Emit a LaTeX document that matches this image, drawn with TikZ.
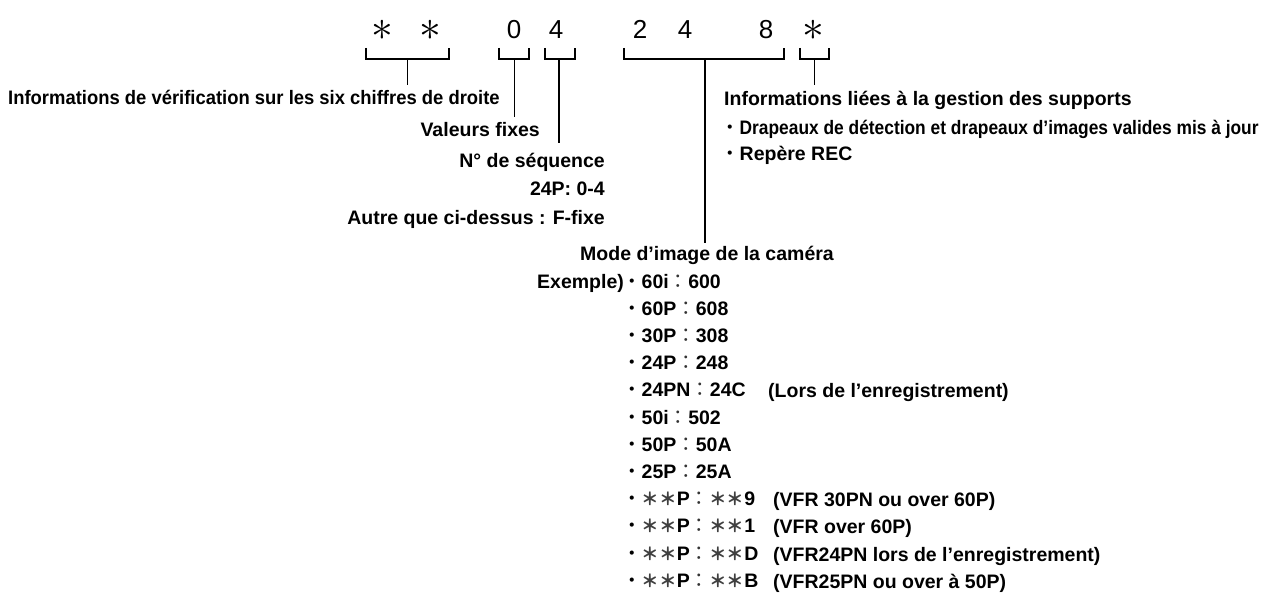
\documentclass[tikz,border=0pt]{standalone}
\usepackage{fontspec}
\setmainfont{Liberation Sans}
\newfontfamily\cjk{Noto Sans CJK JP}
\begin{document}
\begin{tikzpicture}[x=1pt,y=-1pt,
  lab/.style={inner sep=0pt,font=\fontsize{19.5}{23}\selectfont\bfseries},
  digit/.style={inner sep=0pt,font=\fontsize{26}{30}\selectfont},
  astk/.style={inner sep=0pt,font=\fontsize{24.88}{30}\selectfont},
  brk/.style={line width=1.2pt,line join=miter},
  stem/.style={line width=1.2pt}]
\useasboundingbox (0,0) rectangle (1275,594);
\newcommand{\bul}{{\cjk\mdseries ・}}
\newcommand{\col}{{\cjk\mdseries\color{black!80}：}}
\newcommand{\ask}{{\cjk\color{black!75}\scalebox{0.9}{＊}}}
% top code
\node[astk] (c1) at (382.5,30) {\scalebox{1.75}{$\ast$}};
\node[astk] (c2) at (430.5,30) {\scalebox{1.75}{$\ast$}};
\node[digit,anchor=base] (c3) at (514,39) {0};
\node[digit,anchor=base] (c4) at (556,39) {4};
\node[digit,anchor=base] (c5) at (640,39) {2};
\node[digit,anchor=base] (c6) at (685,39) {4};
\node[digit,anchor=base] (c7) at (766,39) {8};
\node[astk] (c8) at (813,30) {\scalebox{1.75}{$\ast$}};
% brackets
\draw[brk] (366,48) -- (366,59) -- (449,59) -- (449,48);
\draw[brk] (499,48) -- (499,59) -- (529,59) -- (529,48);
\draw[brk] (545,48) -- (545,59) -- (575,59) -- (575,48);
\draw[brk] (624,48) -- (624,59) -- (784,59) -- (784,48);
\draw[brk] (800,48) -- (800,59) -- (829,59) -- (829,48);
\coordinate (s1) at (407.5,59);
\coordinate (s2) at (514.6,59);
\coordinate (s3) at (559,59);
\coordinate (s4) at (705,59);
\coordinate (s5) at (814.6,59);
% labels
\node[lab,anchor=base west] (l1) at (8,104) {\scalebox{0.945}[1]{Informations de vérification sur les six chiffres de droite}};
\node[lab,anchor=base east] (l2) at (540,136) {Valeurs fixes};
\node[lab,anchor=base east] (l3) at (605,167) {N° de séquence};
\node[lab,anchor=base east] (l3b) at (605,195) {24P: 0-4};
\node[lab,anchor=base east] (l3c) at (605,224) {Autre que ci-dessus : F-fixe};
\node[lab,anchor=base] (l4) at (707,260) {Mode d’image de la caméra};
\node[lab,anchor=base west] (l5) at (724,105) {Informations liées à la gestion des supports};
\node[lab,anchor=base west] (l5a) at (720,134) {\bul\scalebox{0.89}[1]{Drapeaux de détection et drapeaux d’images valides mis à jour}};
\node[lab,anchor=base west] (l5b) at (720,160) {\bul Repère REC};
% stems
\draw[stem] (s1) -- (s1 |- 0,85);
\draw[stem] (s2) -- (s2 |- 0,117);
\draw[stem] (s3) -- (s3 |- 0,143);
\draw[stem] (s4) -- (s4 |- 0,243);
\draw[stem] (s5) -- (s5 |- 0,85);
% examples
\node[lab,anchor=base west] (ex) at (537,288) {Exemple)};
\node[lab,anchor=base west] (e1) at (622,288) {\bul 60i\col 600};
\node[lab,anchor=base west] (e2) at (622,315.2) {\bul 60P\col 608};
\node[lab,anchor=base west] (e3) at (622,342.4) {\bul 30P\col 308};
\node[lab,anchor=base west] (e4) at (622,369.6) {\bul 24P\col 248};
\node[lab,anchor=base west] (e5) at (622,396.8) {\bul 24PN\col 24C};
\node[lab,anchor=base west] (n5) at (768,397.8) {(Lors de l’enregistrement)};
\node[lab,anchor=base west] (e6) at (622,424) {\bul 50i\col 502};
\node[lab,anchor=base west] (e7) at (622,451.2) {\bul 50P\col 50A};
\node[lab,anchor=base west] (e8) at (622,478.4) {\bul 25P\col 25A};
\node[lab,anchor=base west] (e9) at (622,505.6) {\bul\ask\ask P\col\ask\ask 9};
\node[lab,anchor=base west] (n9) at (773,506.6) {(VFR 30PN ou over 60P)};
\node[lab,anchor=base west] (e10) at (622,532.8) {\bul\ask\ask P\col\ask\ask 1};
\node[lab,anchor=base west] (n10) at (773,533.8) {(VFR over 60P)};
\node[lab,anchor=base west] (e11) at (622,560) {\bul\ask\ask P\col\ask\ask D};
\node[lab,anchor=base west] (n11) at (773,561) {(VFR24PN lors de l’enregistrement)};
\node[lab,anchor=base west] (e12) at (622,587.2) {\bul\ask\ask P\col\ask\ask B};
\node[lab,anchor=base west] (n12) at (773,588) {(VFR25PN ou over à 50P)};
\end{tikzpicture}
\end{document}
